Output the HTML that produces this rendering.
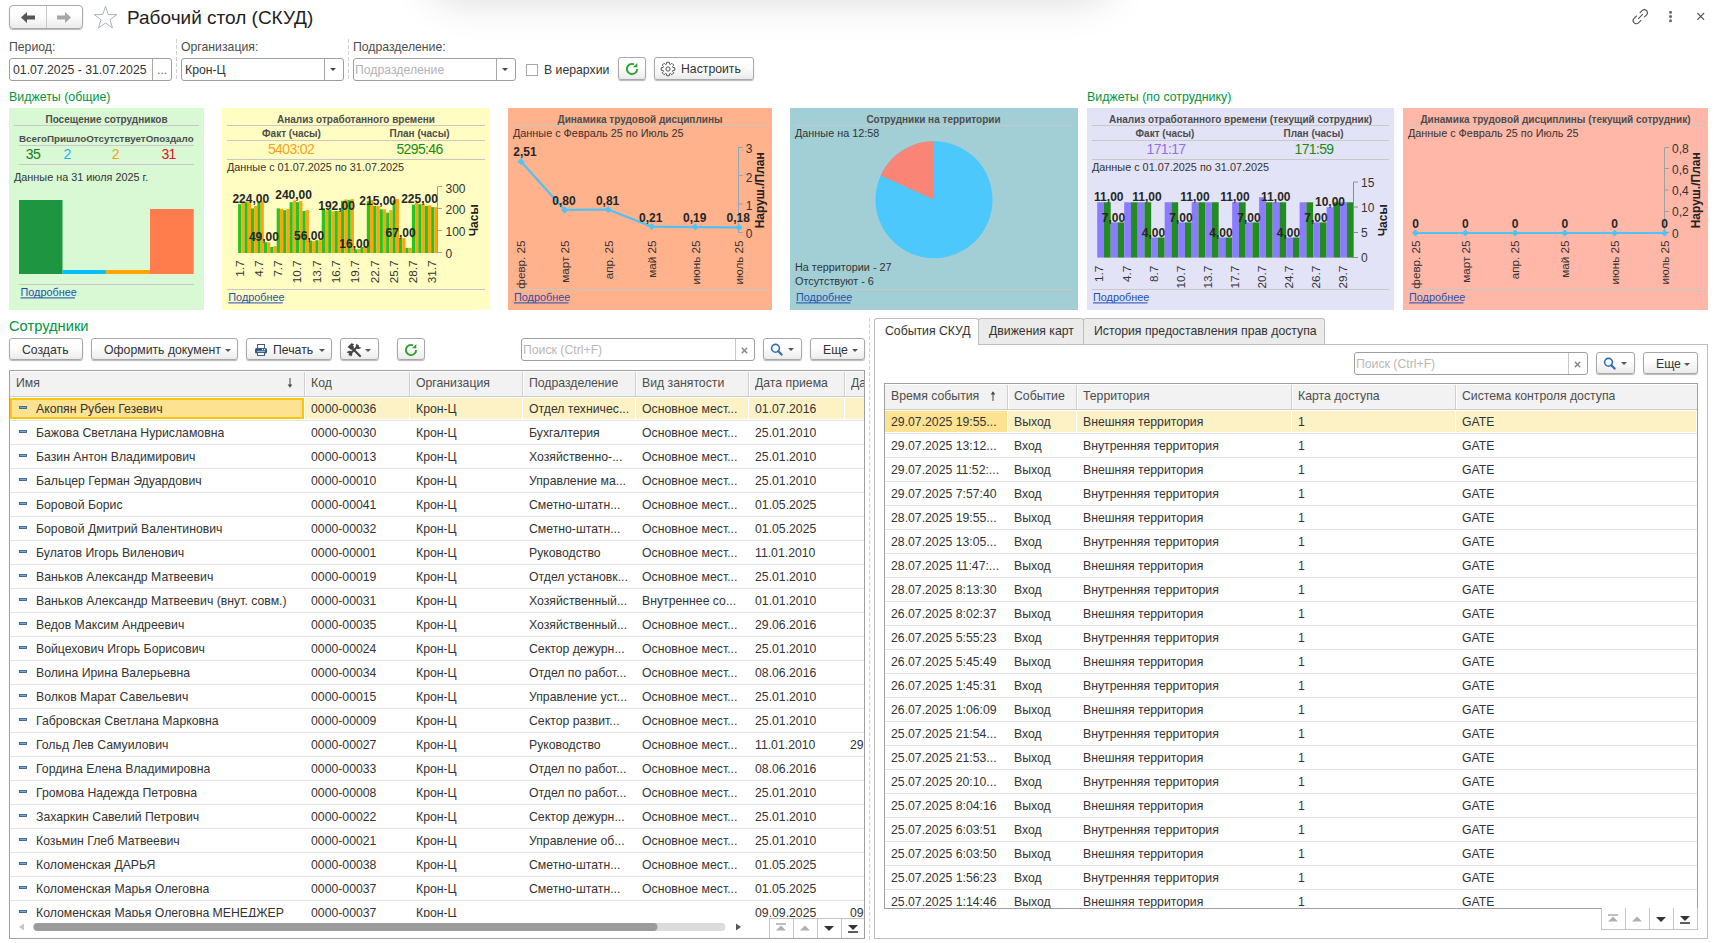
<!DOCTYPE html><html><head><meta charset="utf-8"><title>Рабочий стол (СКУД)</title><style>
*{box-sizing:border-box;margin:0;padding:0}
html,body{width:1714px;height:943px;overflow:hidden;background:#fff}
body{position:relative;font-family:"Liberation Sans",sans-serif;font-size:12.25px;color:#333}
.a{position:absolute}
.btn{position:absolute;border:1px solid #a8a8a8;border-radius:3px;background:linear-gradient(#fff,#fff 40%,#ebebeb);box-shadow:0 1px 1px rgba(0,0,0,.28);color:#333;font-size:12.25px;white-space:nowrap}
.inp{position:absolute;border:1px solid #9e9e9e;border-radius:3px;background:#fff;white-space:nowrap;overflow:hidden}
.lbl{position:absolute;color:#4d4d4d;font-size:12.25px;white-space:nowrap;line-height:14px}
.tx{position:absolute;white-space:nowrap;line-height:14px}
.grid{position:absolute;border:1px solid #a0a0a0;background:#fff;overflow:hidden}
.hdr{position:absolute;background:#f2f2f2;color:#4d4d4d}
.row{position:absolute;left:0;height:24px;border-bottom:1px solid #e4e4e4}
.c{position:absolute;top:0;line-height:23px;white-space:nowrap;overflow:hidden}
.dash{position:absolute;width:8px;height:3px;background:#7aaedb;border:1px solid #466a8c;left:9px;top:9px}
</style></head><body>
<div class="a" style="left:428px;top:-60px;width:686px;height:60px;box-shadow:0 0 40px 0 rgba(0,0,0,.15);border-radius:30px;background:#fff"></div>
<div class="btn" style="left:9px;top:5px;width:74px;height:24px;border-radius:4px"></div>
<div class="a" style="left:46px;top:6px;width:1px;height:22px;background:#c8c8c8"></div>
<svg class="a" style="left:0;top:0" width="120" height="40"><path d="M21 17.5 L27 12 L27 15.5 L35 15.5 L35 19.5 L27 19.5 L27 23 Z" fill="#555"/><path d="M71 17.5 L65 12 L65 15.5 L57 15.5 L57 19.5 L65 19.5 L65 23 Z" fill="#a6a6a6"/><path d="M105.50 6.40 L108.26 14.50 L116.82 14.62 L109.97 19.75 L112.49 27.93 L105.50 23.00 L98.51 27.93 L101.03 19.75 L94.18 14.62 L102.74 14.50 Z" fill="none" stroke="#a9b3bb" stroke-width="1"/></svg>
<div class="tx" style="left:127px;top:5.5px;font-size:19px;line-height:24px;color:#1e1e1e">Рабочий стол (СКУД)</div>
<svg class="a" style="left:1620px;top:0" width="94" height="34"><g fill="none" stroke="#555" stroke-width="1.3" stroke-linecap="round" transform="translate(20.5,16.5) scale(0.86) translate(-20.5,-16.5)"><path d="M20.1 12.0 L22.9 9.2 A3.6 3.6 0 0 1 27.9 14.2 L25.1 17.0"/><path d="M15.9 15.9 L13.05 18.75 A3.6 3.6 0 0 0 18.15 23.85 L21 21"/><path d="M18.1 18.9 L22.9 14.1"/></g><circle cx="50.5" cy="12.3" r="1.5" fill="#666"/><circle cx="50.5" cy="16.5" r="1.5" fill="#666"/><circle cx="50.5" cy="20.7" r="1.5" fill="#666"/><path d="M77.3 13 L84.1 19.8 M84.1 13 L77.3 19.8" stroke="#555" stroke-width="1.1"/></svg>
<div class="lbl" style="left:9px;top:40px">Период:</div>
<div class="inp" style="left:9px;top:58px;width:163px;height:23px"><div class="tx" style="left:3px;top:4px;color:#333">01.07.2025 - 31.07.2025</div><div class="a" style="left:142px;top:0;width:1px;height:21px;background:#a8a8a8"></div><div class="tx" style="left:147px;top:4px;color:#666">...</div></div>
<div class="a" style="left:176px;top:39px;width:1px;height:40px;background:repeating-linear-gradient(#d2d2d2 0 4px,transparent 4px 6px)"></div>
<div class="lbl" style="left:181px;top:40px">Организация:</div>
<div class="inp" style="left:181px;top:58px;width:163px;height:23px"><div class="tx" style="left:3px;top:4px;color:#333">Крон-Ц</div><div class="a" style="left:142px;top:0;width:1px;height:21px;background:#a8a8a8"></div><div class="a" style="left:148px;top:9px;width:0;height:0;border-left:3px solid transparent;border-right:3px solid transparent;border-top:3.5px solid #444"></div></div>
<div class="a" style="left:348px;top:39px;width:1px;height:40px;background:repeating-linear-gradient(#d2d2d2 0 4px,transparent 4px 6px)"></div>
<div class="lbl" style="left:353px;top:40px">Подразделение:</div>
<div class="inp" style="left:353px;top:58px;width:163px;height:23px"><div class="tx" style="left:1px;top:4px;color:#b3b3b3">Подразделение</div><div class="a" style="left:142px;top:0;width:1px;height:21px;background:#a8a8a8"></div><div class="a" style="left:148px;top:9px;width:0;height:0;border-left:3px solid transparent;border-right:3px solid transparent;border-top:3.5px solid #444"></div></div>
<div class="a" style="left:526px;top:64px;width:12px;height:12px;border:1px solid #a8a8a8;background:#fff"></div>
<div class="tx" style="left:544px;top:63px;color:#333">В иерархии</div>
<div class="btn" style="left:618px;top:57px;width:28px;height:23px"></div>
<svg class="a" style="left:623px;top:60px" width="18" height="18"><path d="M11.07 4.34 A5.1 5.1 0 1 0 14.1 9" fill="none" stroke="#2ca02c" stroke-width="1.9"/><path d="M14.3 2.9 L14.3 7.2 L10 7.2 Z" fill="#2ca02c"/></svg>
<div class="btn" style="left:654px;top:57px;width:100px;height:23px"></div>
<svg class="a" style="left:659px;top:60px" width="18" height="18"><g fill="none" stroke="#555" stroke-width="1"><path d="M7.51 4.12 L7.68 2.23 L10.32 2.23 L10.49 4.12 L11.39 4.50 L12.86 3.28 L14.72 5.14 L13.50 6.61 L13.88 7.51 L15.77 7.68 L15.77 10.32 L13.88 10.49 L13.50 11.39 L14.72 12.86 L12.86 14.72 L11.39 13.50 L10.49 13.88 L10.32 15.77 L7.68 15.77 L7.51 13.88 L6.61 13.50 L5.14 14.72 L3.28 12.86 L4.50 11.39 L4.12 10.49 L2.23 10.32 L2.23 7.68 L4.12 7.51 L4.50 6.61 L3.28 5.14 L5.14 3.28 L6.61 4.50 Z"/><circle cx="9" cy="9" r="2.1"/></g></svg>
<div class="tx" style="left:681px;top:62px;color:#333">Настроить</div>
<svg class="a" style="left:0;top:0" width="1714" height="320" font-family='"Liberation Sans", sans-serif'><text x="9" y="101" font-size="12.4" font-weight="400" fill="#00963f" text-anchor="start" >Виджеты (общие)</text><text x="1087" y="101" font-size="12.4" font-weight="400" fill="#00963f" text-anchor="start" >Виджеты (по сотруднику)</text><rect x="9" y="108" width="195" height="202" fill="#d8f9d3"/><rect x="222" y="108" width="268" height="202" fill="#fffdc1"/><rect x="508" y="108" width="264" height="202" fill="#ffb28c"/><rect x="790" y="108" width="288" height="202" fill="#a2cfd6"/><rect x="1087" y="108" width="307" height="202" fill="#e3e3f7"/><rect x="1403" y="108" width="305" height="202" fill="#ffb7a8"/><text x="106.5" y="123" font-size="10" font-weight="700" fill="#4d4d4d" text-anchor="middle" >Посещение сотрудников</text><rect x="14" y="125" width="185" height="1" fill="#c8c8c8"/><text x="19" y="142" font-size="9.8" font-weight="700" fill="#4d4d4d" text-anchor="start" >ВсегоПришлоОтсутствуетОпоздало</text><rect x="19" y="145" width="175" height="1" fill="#c8c8c8"/><text x="33" y="159" font-size="14" font-weight="400" fill="#1a7a1a" text-anchor="middle"  letter-spacing="-0.65">35</text><text x="67" y="159" font-size="14" font-weight="400" fill="#1cb3ef" text-anchor="middle"  letter-spacing="-0.65">2</text><text x="115.3" y="159" font-size="14" font-weight="400" fill="#f7a21b" text-anchor="middle"  letter-spacing="-0.65">2</text><text x="168.6" y="159" font-size="14" font-weight="400" fill="#e5141e" text-anchor="middle"  letter-spacing="-0.65">31</text><rect x="19" y="164" width="175" height="1" fill="#c8c8c8"/><text x="14" y="181" font-size="10.85" font-weight="400" fill="#333" text-anchor="start" >Данные на 31 июля 2025 г.</text><rect x="19" y="200" width="43.5" height="74" fill="#1e9641"/><rect x="62.5" y="270" width="43.7" height="4" fill="#00bfff"/><rect x="106.2" y="270" width="43.8" height="4" fill="#ffa500"/><rect x="150" y="209" width="43.7" height="65" fill="#ff7d4d"/><rect x="19" y="284" width="175" height="1" fill="#c8c8c8"/><text x="20.5" y="296" font-size="10.85" font-weight="400" fill="#1f4fb0" text-anchor="start" >Подробнее</text><rect x="20.5" y="297.4" width="54.5" height="1" fill="#1f4fb0"/><text x="356" y="123" font-size="10" font-weight="700" fill="#4d4d4d" text-anchor="middle" >Анализ отработанного времени</text><rect x="227" y="125" width="258" height="1" fill="#c8c8c8"/><text x="291.5" y="137" font-size="10" font-weight="700" fill="#4d4d4d" text-anchor="middle" >Факт (часы)</text><text x="419.5" y="137" font-size="10" font-weight="700" fill="#4d4d4d" text-anchor="middle" >План (часы)</text><rect x="227" y="140" width="258" height="1" fill="#c8c8c8"/><text x="291" y="154" font-size="14" font-weight="400" fill="#f7a21b" text-anchor="middle"  letter-spacing="-0.65">5403:02</text><text x="419.5" y="154" font-size="14" font-weight="400" fill="#1a8a1a" text-anchor="middle"  letter-spacing="-0.65">5295:46</text><rect x="227" y="159" width="258" height="1" fill="#c8c8c8"/><text x="227" y="171" font-size="10.85" font-weight="400" fill="#333" text-anchor="start" >Данные с 01.07.2025 по 31.07.2025</text><rect x="238.1" y="204.2" width="3.22" height="48.8" fill="#22c522"/><rect x="241.32" y="202.9" width="3.22" height="50.1" fill="#ffa30f"/><rect x="244.54" y="202.2" width="3.22" height="50.8" fill="#22c522"/><rect x="247.75" y="202.2" width="3.22" height="50.8" fill="#ffa30f"/><rect x="250.97" y="208.4" width="3.22" height="44.6" fill="#22c522"/><rect x="254.19" y="205.9" width="3.22" height="47.1" fill="#ffa30f"/><rect x="257.41" y="202.2" width="3.22" height="50.8" fill="#22c522"/><rect x="260.62" y="200.8" width="3.22" height="52.2" fill="#ffa30f"/><rect x="263.84" y="242.3" width="3.22" height="10.7" fill="#22c522"/><rect x="267.06" y="242.3" width="3.22" height="10.7" fill="#ffa30f"/><rect x="270.28" y="247" width="3.22" height="6" fill="#22c522"/><rect x="273.5" y="246.2" width="3.22" height="6.8" fill="#ffa30f"/><rect x="276.71" y="208.4" width="3.22" height="44.6" fill="#22c522"/><rect x="279.93" y="208.8" width="3.22" height="44.2" fill="#ffa30f"/><rect x="283.15" y="210.1" width="3.22" height="42.9" fill="#22c522"/><rect x="286.37" y="208.8" width="3.22" height="44.2" fill="#ffa30f"/><rect x="289.58" y="202.2" width="3.22" height="50.8" fill="#22c522"/><rect x="292.8" y="200.4" width="3.22" height="52.6" fill="#ffa30f"/><rect x="296.02" y="202.2" width="3.22" height="50.8" fill="#22c522"/><rect x="299.24" y="201.2" width="3.22" height="51.8" fill="#ffa30f"/><rect x="302.45" y="211" width="3.22" height="42" fill="#22c522"/><rect x="305.67" y="210.1" width="3.22" height="42.9" fill="#ffa30f"/><rect x="308.89" y="240.6" width="3.22" height="12.4" fill="#22c522"/><rect x="312.11" y="241.1" width="3.22" height="11.9" fill="#ffa30f"/><rect x="315.33" y="240.2" width="3.22" height="12.8" fill="#22c522"/><rect x="318.54" y="240.2" width="3.22" height="12.8" fill="#ffa30f"/><rect x="321.76" y="208.4" width="3.22" height="44.6" fill="#22c522"/><rect x="324.98" y="210.1" width="3.22" height="42.9" fill="#ffa30f"/><rect x="328.2" y="209.7" width="3.22" height="43.3" fill="#22c522"/><rect x="331.41" y="211.4" width="3.22" height="41.6" fill="#ffa30f"/><rect x="334.63" y="211" width="3.22" height="42" fill="#22c522"/><rect x="337.85" y="211" width="3.22" height="42" fill="#ffa30f"/><rect x="341.07" y="200.8" width="3.22" height="52.2" fill="#22c522"/><rect x="344.29" y="199.5" width="3.22" height="53.5" fill="#ffa30f"/><rect x="347.5" y="199.9" width="3.22" height="53.1" fill="#22c522"/><rect x="350.72" y="199.1" width="3.22" height="53.9" fill="#ffa30f"/><rect x="353.94" y="249.5" width="3.22" height="3.5" fill="#22c522"/><rect x="357.16" y="249.1" width="3.22" height="3.9" fill="#ffa30f"/><rect x="360.37" y="247" width="3.22" height="6" fill="#22c522"/><rect x="363.59" y="246" width="3.22" height="7" fill="#ffa30f"/><rect x="366.81" y="201.2" width="3.22" height="51.8" fill="#22c522"/><rect x="370.03" y="199.9" width="3.22" height="53.1" fill="#ffa30f"/><rect x="373.25" y="205.9" width="3.22" height="47.1" fill="#22c522"/><rect x="376.46" y="205.9" width="3.22" height="47.1" fill="#ffa30f"/><rect x="379.68" y="209.3" width="3.22" height="43.7" fill="#22c522"/><rect x="382.9" y="209.3" width="3.22" height="43.7" fill="#ffa30f"/><rect x="386.12" y="212.7" width="3.22" height="40.3" fill="#22c522"/><rect x="389.33" y="210.1" width="3.22" height="42.9" fill="#ffa30f"/><rect x="392.55" y="200.4" width="3.22" height="52.6" fill="#22c522"/><rect x="395.77" y="199.1" width="3.22" height="53.9" fill="#ffa30f"/><rect x="398.99" y="238.1" width="3.22" height="14.9" fill="#22c522"/><rect x="402.2" y="238.1" width="3.22" height="14.9" fill="#ffa30f"/><rect x="405.42" y="247.9" width="3.22" height="5.1" fill="#22c522"/><rect x="408.64" y="247.9" width="3.22" height="5.1" fill="#ffa30f"/><rect x="411.86" y="204.6" width="3.22" height="48.4" fill="#22c522"/><rect x="415.08" y="202.9" width="3.22" height="50.1" fill="#ffa30f"/><rect x="418.29" y="204.2" width="3.22" height="48.8" fill="#22c522"/><rect x="421.51" y="203.7" width="3.22" height="49.3" fill="#ffa30f"/><rect x="424.73" y="205.9" width="3.22" height="47.1" fill="#22c522"/><rect x="427.95" y="205.4" width="3.22" height="47.6" fill="#ffa30f"/><rect x="431.16" y="207.1" width="3.22" height="45.9" fill="#22c522"/><rect x="434.38" y="207.1" width="3.22" height="45.9" fill="#ffa30f"/><path d="M437.5 186.5 H442 M437.5 186.5 V253 M437.5 208.5 H442 M437.5 230.5 H442 M437.5 252.5 H442" stroke="#9aa0b4" stroke-width="1" fill="none"/><text x="445.5" y="192.5" font-size="12" font-weight="400" fill="#333" text-anchor="start" >300</text><text x="445.5" y="214" font-size="12" font-weight="400" fill="#333" text-anchor="start" >200</text><text x="445.5" y="236" font-size="12" font-weight="400" fill="#333" text-anchor="start" >100</text><text x="445.5" y="257.5" font-size="12" font-weight="400" fill="#333" text-anchor="start" >0</text><text x="0" y="0" font-size="12" font-weight="700" fill="#222" text-anchor="middle" transform="translate(477.8,220.3) rotate(-90)">Часы</text><text font-size="11.7" fill="#333" text-anchor="end" transform="translate(243.6,260.5) rotate(-90)">1.7</text><text font-size="11.7" fill="#333" text-anchor="end" transform="translate(262.9,260.5) rotate(-90)">4.7</text><text font-size="11.7" fill="#333" text-anchor="end" transform="translate(282.2,260.5) rotate(-90)">7.7</text><text font-size="11.7" fill="#333" text-anchor="end" transform="translate(301.4,260.5) rotate(-90)">10.7</text><text font-size="11.7" fill="#333" text-anchor="end" transform="translate(320.7,260.5) rotate(-90)">13.7</text><text font-size="11.7" fill="#333" text-anchor="end" transform="translate(340.0,260.5) rotate(-90)">16.7</text><text font-size="11.7" fill="#333" text-anchor="end" transform="translate(359.3,260.5) rotate(-90)">19.7</text><text font-size="11.7" fill="#333" text-anchor="end" transform="translate(378.6,260.5) rotate(-90)">22.7</text><text font-size="11.7" fill="#333" text-anchor="end" transform="translate(397.8,260.5) rotate(-90)">25.7</text><text font-size="11.7" fill="#333" text-anchor="end" transform="translate(417.1,260.5) rotate(-90)">28.7</text><text font-size="11.7" fill="#333" text-anchor="end" transform="translate(436.4,260.5) rotate(-90)">31.7</text><text x="250.8" y="203.3" font-size="12" font-weight="700" fill="#262626" text-anchor="middle" >224,00</text><text x="263.9" y="241" font-size="12" font-weight="700" fill="#262626" text-anchor="middle" >49,00</text><text x="293.6" y="199.3" font-size="12" font-weight="700" fill="#262626" text-anchor="middle" >240,00</text><text x="309.1" y="240.2" font-size="12" font-weight="700" fill="#262626" text-anchor="middle" >56,00</text><text x="336.6" y="210.2" font-size="12" font-weight="700" fill="#262626" text-anchor="middle" >192,00</text><text x="354.3" y="248" font-size="12" font-weight="700" fill="#262626" text-anchor="middle" >16,00</text><text x="377.7" y="205" font-size="12" font-weight="700" fill="#262626" text-anchor="middle" >215,00</text><text x="400.6" y="236.8" font-size="12" font-weight="700" fill="#262626" text-anchor="middle" >67,00</text><text x="419.5" y="203.2" font-size="12" font-weight="700" fill="#262626" text-anchor="middle" >225,00</text><rect x="227" y="289" width="258" height="1" fill="#c8c8c8"/><text x="228.3" y="301" font-size="10.85" font-weight="400" fill="#1f4fb0" text-anchor="start" >Подробнее</text><rect x="228.3" y="302.4" width="54.5" height="1" fill="#1f4fb0"/><text x="640" y="123" font-size="10" font-weight="700" fill="#4d4d4d" text-anchor="middle" >Динамика трудовой дисциплины</text><rect x="513" y="125" width="254" height="1" fill="#c8c8c8"/><text x="513" y="137" font-size="10.85" font-weight="400" fill="#333" text-anchor="start" >Данные с Февраль 25 по Июль 25</text><path d="M738.5 147.5 H743 M738.5 147.5 V233 M738.5 175.5 H743 M738.5 204 H743 M738.5 232.5 H743" stroke="#93a4b6" stroke-width="1" fill="none"/><text x="745.7" y="153.2" font-size="12" font-weight="400" fill="#333" text-anchor="start" >3</text><text x="745.7" y="181.5" font-size="12" font-weight="400" fill="#333" text-anchor="start" >2</text><text x="745.7" y="210" font-size="12" font-weight="400" fill="#333" text-anchor="start" >1</text><text x="745.7" y="238.2" font-size="12" font-weight="400" fill="#333" text-anchor="start" >0</text><text x="0" y="0" font-size="12" font-weight="700" fill="#222" text-anchor="middle" transform="translate(763.5,190.3) rotate(-90)">Наруш./План</text><polyline points="521.0,161.6 564.6,209.9 608.2,209.6 651.8,226.6 695.4,227.1 739.0,227.4" fill="none" stroke="#4fc3f7" stroke-width="2.2"/><path d="M521.0 158.1 L524.5 161.6 L521.0 165.1 L517.5 161.6 Z" fill="#4fc3f7"/><path d="M564.6 206.4 L568.1 209.9 L564.6 213.4 L561.1 209.9 Z" fill="#4fc3f7"/><path d="M608.2 206.1 L611.7 209.6 L608.2 213.1 L604.7 209.6 Z" fill="#4fc3f7"/><path d="M651.8 223.1 L655.3 226.6 L651.8 230.1 L648.3 226.6 Z" fill="#4fc3f7"/><path d="M695.4 223.6 L698.9 227.1 L695.4 230.6 L691.9 227.1 Z" fill="#4fc3f7"/><path d="M739.0 223.9 L742.5 227.4 L739.0 230.9 L735.5 227.4 Z" fill="#4fc3f7"/><text x="525" y="155.5" font-size="12" font-weight="700" fill="#262626" text-anchor="middle" >2,51</text><text x="564" y="205" font-size="12" font-weight="700" fill="#262626" text-anchor="middle" >0,80</text><text x="607.6" y="205" font-size="12" font-weight="700" fill="#262626" text-anchor="middle" >0,81</text><text x="650.7" y="222" font-size="12" font-weight="700" fill="#262626" text-anchor="middle" >0,21</text><text x="694.8" y="222" font-size="12" font-weight="700" fill="#262626" text-anchor="middle" >0,19</text><text x="738.2" y="222" font-size="12" font-weight="700" fill="#262626" text-anchor="middle" >0,18</text><text font-size="11.7" fill="#333" text-anchor="end" transform="translate(525.3,240.4) rotate(-90)">февр. 25</text><text font-size="11.7" fill="#333" text-anchor="end" transform="translate(568.9,240.4) rotate(-90)">март 25</text><text font-size="11.7" fill="#333" text-anchor="end" transform="translate(612.5,240.4) rotate(-90)">апр. 25</text><text font-size="11.7" fill="#333" text-anchor="end" transform="translate(656.1,240.4) rotate(-90)">май 25</text><text font-size="11.7" fill="#333" text-anchor="end" transform="translate(699.7,240.4) rotate(-90)">июнь 25</text><text font-size="11.7" fill="#333" text-anchor="end" transform="translate(743.3,240.4) rotate(-90)">июль 25</text><rect x="513" y="289" width="254" height="1" fill="#c8c8c8"/><text x="514" y="301" font-size="10.85" font-weight="400" fill="#1f4fb0" text-anchor="start" >Подробнее</text><rect x="514" y="302.4" width="54.5" height="1" fill="#1f4fb0"/><text x="933.5" y="123" font-size="10" font-weight="700" fill="#4d4d4d" text-anchor="middle" >Сотрудники на территории</text><rect x="795" y="125" width="278" height="1" fill="#c8c8c8"/><text x="795" y="137" font-size="10.85" font-weight="400" fill="#333" text-anchor="start" >Данные на 12:58</text><circle cx="934" cy="199.7" r="58.5" fill="#4dc8fc"/><path d="M934 199.7 L934 141.2 A58.5 58.5 0 0 0 880.79 175.40 Z" fill="#fa8475"/><text x="795" y="270.5" font-size="10.85" font-weight="400" fill="#333" text-anchor="start" >На территории - 27</text><text x="795" y="285" font-size="10.85" font-weight="400" fill="#333" text-anchor="start" >Отсутствуют - 6</text><rect x="795" y="289" width="278" height="1" fill="#c8c8c8"/><text x="796" y="301" font-size="10.85" font-weight="400" fill="#1f4fb0" text-anchor="start" >Подробнее</text><rect x="796" y="302.4" width="54.5" height="1" fill="#1f4fb0"/><text x="1240.5" y="123" font-size="10" font-weight="700" fill="#4d4d4d" text-anchor="middle" >Анализ отработанного времени (текущий сотрудник)</text><rect x="1092" y="125" width="297" height="1" fill="#c8c8c8"/><text x="1165" y="137" font-size="10" font-weight="700" fill="#4d4d4d" text-anchor="middle" >Факт (часы)</text><text x="1313.5" y="137" font-size="10" font-weight="700" fill="#4d4d4d" text-anchor="middle" >План (часы)</text><rect x="1092" y="140" width="297" height="1" fill="#c8c8c8"/><text x="1166" y="153.5" font-size="14" font-weight="400" fill="#9370db" text-anchor="middle"  letter-spacing="-0.65">171:17</text><text x="1314" y="153.5" font-size="14" font-weight="400" fill="#1a8a1a" text-anchor="middle"  letter-spacing="-0.65">171:59</text><rect x="1092" y="159" width="297" height="1" fill="#c8c8c8"/><text x="1092" y="171" font-size="10.85" font-weight="400" fill="#333" text-anchor="start" >Данные с 01.07.2025 по 31.07.2025</text><rect x="1097.2" y="202.27" width="6.75" height="55.33" fill="#8b7bff"/><rect x="1103.95" y="202.27" width="6.75" height="55.33" fill="#228b22"/><rect x="1110.69" y="222.39" width="6.75" height="35.21" fill="#8b7bff"/><rect x="1117.44" y="222.39" width="6.75" height="35.21" fill="#228b22"/><rect x="1124.19" y="202.27" width="6.75" height="55.33" fill="#8b7bff"/><rect x="1130.94" y="202.27" width="6.75" height="55.33" fill="#228b22"/><rect x="1137.68" y="202.27" width="6.75" height="55.33" fill="#8b7bff"/><rect x="1144.43" y="202.27" width="6.75" height="55.33" fill="#228b22"/><rect x="1151.18" y="237.48" width="6.75" height="20.12" fill="#8b7bff"/><rect x="1157.93" y="237.48" width="6.75" height="20.12" fill="#228b22"/><rect x="1164.67" y="202.27" width="6.75" height="55.33" fill="#8b7bff"/><rect x="1171.42" y="202.27" width="6.75" height="55.33" fill="#228b22"/><rect x="1178.17" y="222.39" width="6.75" height="35.21" fill="#8b7bff"/><rect x="1184.92" y="222.39" width="6.75" height="35.21" fill="#228b22"/><rect x="1191.66" y="202.27" width="6.75" height="55.33" fill="#8b7bff"/><rect x="1198.41" y="202.27" width="6.75" height="55.33" fill="#228b22"/><rect x="1205.16" y="202.27" width="6.75" height="55.33" fill="#8b7bff"/><rect x="1211.91" y="202.27" width="6.75" height="55.33" fill="#228b22"/><rect x="1218.65" y="237.48" width="6.75" height="20.12" fill="#8b7bff"/><rect x="1225.4" y="237.48" width="6.75" height="20.12" fill="#228b22"/><rect x="1232.15" y="202.27" width="6.75" height="55.33" fill="#8b7bff"/><rect x="1238.89" y="202.27" width="6.75" height="55.33" fill="#228b22"/><rect x="1245.64" y="222.39" width="6.75" height="35.21" fill="#8b7bff"/><rect x="1252.39" y="222.39" width="6.75" height="35.21" fill="#228b22"/><rect x="1259.14" y="197.24" width="6.75" height="60.36" fill="#8b7bff"/><rect x="1265.88" y="202.27" width="6.75" height="55.33" fill="#228b22"/><rect x="1272.63" y="202.27" width="6.75" height="55.33" fill="#8b7bff"/><rect x="1279.38" y="202.27" width="6.75" height="55.33" fill="#228b22"/><rect x="1286.13" y="237.48" width="6.75" height="20.12" fill="#8b7bff"/><rect x="1292.87" y="237.48" width="6.75" height="20.12" fill="#228b22"/><rect x="1299.62" y="202.27" width="6.75" height="55.33" fill="#8b7bff"/><rect x="1306.37" y="202.27" width="6.75" height="55.33" fill="#228b22"/><rect x="1313.12" y="222.39" width="6.75" height="35.21" fill="#8b7bff"/><rect x="1319.86" y="222.39" width="6.75" height="35.21" fill="#228b22"/><rect x="1326.61" y="207.3" width="6.75" height="50.3" fill="#8b7bff"/><rect x="1333.36" y="202.27" width="6.75" height="55.33" fill="#228b22"/><rect x="1340.11" y="202.27" width="6.75" height="55.33" fill="#8b7bff"/><rect x="1346.85" y="202.27" width="6.75" height="55.33" fill="#228b22"/><path d="M1353.5 182 H1358 M1353.5 182 V258 M1353.5 207 H1358 M1353.5 232.5 H1358 M1353.5 257.5 H1358" stroke="#8d8d8d" stroke-width="1" fill="none"/><text x="1361" y="187" font-size="12" font-weight="400" fill="#333" text-anchor="start" >15</text><text x="1361" y="212" font-size="12" font-weight="400" fill="#333" text-anchor="start" >10</text><text x="1361" y="237" font-size="12" font-weight="400" fill="#333" text-anchor="start" >5</text><text x="1361" y="262" font-size="12" font-weight="400" fill="#333" text-anchor="start" >0</text><text x="0" y="0" font-size="12" font-weight="700" fill="#222" text-anchor="middle" transform="translate(1387,220.3) rotate(-90)">Часы</text><text font-size="11.7" fill="#333" text-anchor="end" transform="translate(1103.4,265.8) rotate(-90)">1.7</text><text font-size="11.7" fill="#333" text-anchor="end" transform="translate(1130.5,265.8) rotate(-90)">4.7</text><text font-size="11.7" fill="#333" text-anchor="end" transform="translate(1157.6,265.8) rotate(-90)">8.7</text><text font-size="11.7" fill="#333" text-anchor="end" transform="translate(1184.7,265.8) rotate(-90)">10.7</text><text font-size="11.7" fill="#333" text-anchor="end" transform="translate(1211.8,265.8) rotate(-90)">13.7</text><text font-size="11.7" fill="#333" text-anchor="end" transform="translate(1238.9,265.8) rotate(-90)">17.7</text><text font-size="11.7" fill="#333" text-anchor="end" transform="translate(1266.0,265.8) rotate(-90)">20.7</text><text font-size="11.7" fill="#333" text-anchor="end" transform="translate(1293.1,265.8) rotate(-90)">24.7</text><text font-size="11.7" fill="#333" text-anchor="end" transform="translate(1320.2,265.8) rotate(-90)">26.7</text><text font-size="11.7" fill="#333" text-anchor="end" transform="translate(1347.3,265.8) rotate(-90)">29.7</text><text x="1108.8" y="200.7" font-size="12" font-weight="700" fill="#262626" text-anchor="middle" >11,00</text><text x="1113.4" y="221.5" font-size="12" font-weight="700" fill="#262626" text-anchor="middle" >7,00</text><text x="1147" y="200.7" font-size="12" font-weight="700" fill="#262626" text-anchor="middle" >11,00</text><text x="1153.5" y="236.8" font-size="12" font-weight="700" fill="#262626" text-anchor="middle" >4,00</text><text x="1181" y="221.5" font-size="12" font-weight="700" fill="#262626" text-anchor="middle" >7,00</text><text x="1195" y="200.7" font-size="12" font-weight="700" fill="#262626" text-anchor="middle" >11,00</text><text x="1221" y="236.8" font-size="12" font-weight="700" fill="#262626" text-anchor="middle" >4,00</text><text x="1235" y="200.7" font-size="12" font-weight="700" fill="#262626" text-anchor="middle" >11,00</text><text x="1249" y="221.5" font-size="12" font-weight="700" fill="#262626" text-anchor="middle" >7,00</text><text x="1275.8" y="200.7" font-size="12" font-weight="700" fill="#262626" text-anchor="middle" >11,00</text><text x="1288.5" y="236.8" font-size="12" font-weight="700" fill="#262626" text-anchor="middle" >4,00</text><text x="1316" y="221.5" font-size="12" font-weight="700" fill="#262626" text-anchor="middle" >7,00</text><text x="1330" y="205.8" font-size="12" font-weight="700" fill="#262626" text-anchor="middle" >10,00</text><rect x="1092" y="289" width="297" height="1" fill="#c8c8c8"/><text x="1093" y="301" font-size="10.85" font-weight="400" fill="#1f4fb0" text-anchor="start" >Подробнее</text><rect x="1093" y="302.4" width="54.5" height="1" fill="#1f4fb0"/><text x="1555.5" y="123" font-size="10" font-weight="700" fill="#4d4d4d" text-anchor="middle" >Динамика трудовой дисциплины (текущий сотрудник)</text><rect x="1408" y="125" width="295" height="1" fill="#c8c8c8"/><text x="1408" y="137" font-size="10.85" font-weight="400" fill="#333" text-anchor="start" >Данные с Февраль 25 по Июль 25</text><path d="M1664.5 147.5 H1669 M1664.5 147.5 V233 M1664.5 168.5 H1669 M1664.5 190 H1669 M1664.5 211.5 H1669 M1664.5 232.5 H1669" stroke="#a0a0a0" stroke-width="1" fill="none"/><text x="1672" y="152.5" font-size="12" font-weight="400" fill="#333" text-anchor="start" >0,8</text><text x="1672" y="173.5" font-size="12" font-weight="400" fill="#333" text-anchor="start" >0,6</text><text x="1672" y="194.5" font-size="12" font-weight="400" fill="#333" text-anchor="start" >0,4</text><text x="1672" y="216" font-size="12" font-weight="400" fill="#333" text-anchor="start" >0,2</text><text x="1672" y="237.5" font-size="12" font-weight="400" fill="#333" text-anchor="start" >0</text><text x="0" y="0" font-size="12" font-weight="700" fill="#222" text-anchor="middle" transform="translate(1699.5,190.3) rotate(-90)">Наруш./План</text><polyline points="1415.5,233 1664.5,233" fill="none" stroke="#4fc3f7" stroke-width="2.2"/><path d="M1415.5 229.5 L1419.0 233 L1415.5 236.5 L1412.0 233 Z" fill="#4fc3f7"/><text x="1415.5" y="228" font-size="12" font-weight="700" fill="#262626" text-anchor="middle" >0</text><path d="M1465.3 229.5 L1468.8 233 L1465.3 236.5 L1461.8 233 Z" fill="#4fc3f7"/><text x="1465.3" y="228" font-size="12" font-weight="700" fill="#262626" text-anchor="middle" >0</text><path d="M1515.1 229.5 L1518.6 233 L1515.1 236.5 L1511.6 233 Z" fill="#4fc3f7"/><text x="1515.1" y="228" font-size="12" font-weight="700" fill="#262626" text-anchor="middle" >0</text><path d="M1564.9 229.5 L1568.4 233 L1564.9 236.5 L1561.4 233 Z" fill="#4fc3f7"/><text x="1564.9" y="228" font-size="12" font-weight="700" fill="#262626" text-anchor="middle" >0</text><path d="M1614.7 229.5 L1618.2 233 L1614.7 236.5 L1611.2 233 Z" fill="#4fc3f7"/><text x="1614.7" y="228" font-size="12" font-weight="700" fill="#262626" text-anchor="middle" >0</text><path d="M1664.5 229.5 L1668.0 233 L1664.5 236.5 L1661.0 233 Z" fill="#4fc3f7"/><text x="1664.5" y="228" font-size="12" font-weight="700" fill="#262626" text-anchor="middle" >0</text><text font-size="11.7" fill="#333" text-anchor="end" transform="translate(1419.8,240.4) rotate(-90)">февр. 25</text><text font-size="11.7" fill="#333" text-anchor="end" transform="translate(1469.6,240.4) rotate(-90)">март 25</text><text font-size="11.7" fill="#333" text-anchor="end" transform="translate(1519.4,240.4) rotate(-90)">апр. 25</text><text font-size="11.7" fill="#333" text-anchor="end" transform="translate(1569.2,240.4) rotate(-90)">май 25</text><text font-size="11.7" fill="#333" text-anchor="end" transform="translate(1619.0,240.4) rotate(-90)">июнь 25</text><text font-size="11.7" fill="#333" text-anchor="end" transform="translate(1668.8,240.4) rotate(-90)">июль 25</text><rect x="1408" y="289" width="295" height="1" fill="#c8c8c8"/><text x="1409" y="301" font-size="10.85" font-weight="400" fill="#1f4fb0" text-anchor="start" >Подробнее</text><rect x="1409" y="302.4" width="54.5" height="1" fill="#1f4fb0"/></svg>
<div class="tx" style="left:9px;top:318px;font-size:14.7px;line-height:16px;color:#00963f">Сотрудники</div>
<div class="btn" style="left:9px;top:338px;width:74px;height:22px"><div class="tx" style="left:12px;top:4px">Создать</div></div>
<div class="btn" style="left:91px;top:338px;width:147px;height:22px"><div class="tx" style="left:12px;top:4px">Оформить документ</div><div class="a" style="left:133px;top:10px;width:0;height:0;border-left:3.5px solid transparent;border-right:3.5px solid transparent;border-top:3.5px solid #555"></div></div>
<div class="btn" style="left:246px;top:338px;width:86px;height:22px"><svg class="a" style="left:7px;top:4px" width="14" height="14"><rect x="3.5" y="1.5" width="7" height="4" fill="#fff" stroke="#3d5f85" stroke-width="1"/><rect x="1" y="5" width="12" height="5.5" rx="1.5" fill="#2f5a88"/><rect x="3" y="7.8" width="8" height="1.2" fill="#9db9d6"/><circle cx="8.6" cy="6.4" r="0.65" fill="#fff"/><circle cx="10.6" cy="6.4" r="0.65" fill="#fff"/><rect x="3.5" y="9.5" width="7" height="3" fill="#fff" stroke="#3d5f85" stroke-width="1"/></svg><div class="tx" style="left:26px;top:4px">Печать</div><div class="a" style="left:72px;top:10px;width:0;height:0;border-left:3.5px solid transparent;border-right:3.5px solid transparent;border-top:3.5px solid #555"></div></div>
<div class="btn" style="left:340px;top:338px;width:39px;height:22px"><svg class="a" style="left:5px;top:3px" width="17" height="16"><path d="M5.5 5.5 L14 14" stroke="#444" stroke-width="2.2" stroke-linecap="round"/><path d="M1.5 5 L5.5 1.2 L8.3 2.2 L6.8 3.4 L8.2 5 L5.2 8 L3.6 6.6 Z" fill="#444"/><path d="M3.5 12.5 L12 4" stroke="#444" stroke-width="2" stroke-linecap="round"/><path d="M11.2 1.5 A3 3 0 1 0 15.3 5.6 L13.4 5.2 L11.8 3.6 Z" fill="#444"/><path d="M4.6 14.6 A3 3 0 1 0 0.7 10.5 L2.6 10.9 L4.2 12.5 Z" fill="#444"/></svg><div class="a" style="left:24px;top:10px;width:0;height:0;border-left:3.5px solid transparent;border-right:3.5px solid transparent;border-top:3.5px solid #555"></div></div>
<div class="btn" style="left:397px;top:338px;width:28px;height:22px"></div>
<svg class="a" style="left:402px;top:341px" width="18" height="18"><path d="M11.07 4.34 A5.1 5.1 0 1 0 14.1 9" fill="none" stroke="#2ca02c" stroke-width="1.9"/><path d="M14.3 2.9 L14.3 7.2 L10 7.2 Z" fill="#2ca02c"/></svg>
<div class="inp" style="left:521px;top:338px;width:234px;height:23px"><div class="tx" style="left:1px;top:4px;color:#b8b8b8">Поиск (Ctrl+F)</div><div class="a" style="left:213px;top:0;width:1px;height:21px;background:#c8c8c8"></div><svg class="a" style="left:218px;top:7px" width="9" height="9"><path d="M1.8 1.8 L7.2 7.2 M7.2 1.8 L1.8 7.2" stroke="#888" stroke-width="1.5"/></svg></div>
<div class="btn" style="left:763px;top:338px;width:39px;height:22px"><svg class="a" style="left:6px;top:4px" width="14" height="14"><circle cx="5.5" cy="5.3" r="3.9" fill="none" stroke="#2f6fb3" stroke-width="1.6"/><path d="M8.3 8.2 L11.6 11.6" stroke="#2f6fb3" stroke-width="2.2" stroke-linecap="round"/></svg><div class="a" style="left:24px;top:9px;width:0;height:0;border-left:3.5px solid transparent;border-right:3.5px solid transparent;border-top:3.5px solid #555"></div></div>
<div class="btn" style="left:810px;top:338px;width:55px;height:22px"><div class="tx" style="left:12px;top:4px">Еще</div><div class="a" style="left:41px;top:10px;width:0;height:0;border-left:3.5px solid transparent;border-right:3.5px solid transparent;border-top:3.5px solid #555"></div></div>
<div class="grid" style="left:9px;top:370px;width:856px;height:569px">
<div class="hdr" style="left:0;top:1px;width:900px;height:24px"></div>
<div class="a" style="left:0;top:25px;width:900px;height:1px;background:#cdcdcd"></div>
<div class="c" style="left:6px;top:0px;line-height:24px;color:#4d4d4d">Имя</div>
<div class="a" style="left:294px;top:1px;width:1px;height:24px;background:#cfcfcf"></div>
<div class="a" style="left:295px;top:1px;width:1px;height:24px;background:#fff"></div>
<div class="c" style="left:301px;top:0px;line-height:24px;color:#4d4d4d">Код</div>
<div class="a" style="left:399px;top:1px;width:1px;height:24px;background:#cfcfcf"></div>
<div class="a" style="left:400px;top:1px;width:1px;height:24px;background:#fff"></div>
<div class="c" style="left:406px;top:0px;line-height:24px;color:#4d4d4d">Организация</div>
<div class="a" style="left:512px;top:1px;width:1px;height:24px;background:#cfcfcf"></div>
<div class="a" style="left:513px;top:1px;width:1px;height:24px;background:#fff"></div>
<div class="c" style="left:519px;top:0px;line-height:24px;color:#4d4d4d">Подразделение</div>
<div class="a" style="left:625px;top:1px;width:1px;height:24px;background:#cfcfcf"></div>
<div class="a" style="left:626px;top:1px;width:1px;height:24px;background:#fff"></div>
<div class="c" style="left:632px;top:0px;line-height:24px;color:#4d4d4d">Вид занятости</div>
<div class="a" style="left:738px;top:1px;width:1px;height:24px;background:#cfcfcf"></div>
<div class="a" style="left:739px;top:1px;width:1px;height:24px;background:#fff"></div>
<div class="c" style="left:745px;top:0px;line-height:24px;color:#4d4d4d">Дата приема</div>
<div class="a" style="left:834px;top:1px;width:1px;height:24px;background:#cfcfcf"></div>
<div class="a" style="left:835px;top:1px;width:1px;height:24px;background:#fff"></div>
<div class="c" style="left:841px;top:0px;line-height:24px;color:#4d4d4d">Дата</div>
<svg class="a" style="left:275px;top:6px" width="10" height="12"><path d="M5 1 V9" stroke="#444" stroke-width="1"/><path d="M2.7 7.5 L5 10.8 L7.3 7.5 Z" fill="#444"/></svg>
<div class="a" style="left:0;top:26px;width:900px;height:24px">
<div class="a" style="left:0px;top:1px;width:294px;height:21px;background:#fde291;border:2px solid #f9c50f"></div>
<div class="a" style="left:295px;top:1px;width:104px;height:21px;background:#fdf2c6"></div>
<div class="a" style="left:400px;top:1px;width:112px;height:21px;background:#fdf2c6"></div>
<div class="a" style="left:513px;top:1px;width:112px;height:21px;background:#fdf2c6"></div>
<div class="a" style="left:626px;top:1px;width:112px;height:21px;background:#fdf2c6"></div>
<div class="a" style="left:739px;top:1px;width:95px;height:21px;background:#fdf2c6"></div>
<div class="a" style="left:835px;top:1px;width:64px;height:21px;background:#fdf2c6"></div>
<div class="a" style="left:0;top:23px;width:900px;height:1px;background:#e3e3e3"></div>
<div class="dash"></div>
<div class="c" style="left:26px;top:0;line-height:24px;color:#333">Акопян Рубен Гезевич</div>
<div class="c" style="left:301px;top:0;line-height:24px;color:#333">0000-00036</div>
<div class="c" style="left:406px;top:0;line-height:24px;color:#333">Крон-Ц</div>
<div class="c" style="left:519px;top:0;line-height:24px;color:#333">Отдел техничес...</div>
<div class="c" style="left:632px;top:0;line-height:24px;color:#333">Основное мест...</div>
<div class="c" style="left:745px;top:0;line-height:24px;color:#333">01.07.2016</div>
</div>
<div class="a" style="left:0;top:50px;width:900px;height:24px">
<div class="a" style="left:0;top:23px;width:900px;height:1px;background:#e3e3e3"></div>
<div class="dash"></div>
<div class="c" style="left:26px;top:0;line-height:24px;color:#333">Бажова Светлана Нурисламовна</div>
<div class="c" style="left:301px;top:0;line-height:24px;color:#333">0000-00030</div>
<div class="c" style="left:406px;top:0;line-height:24px;color:#333">Крон-Ц</div>
<div class="c" style="left:519px;top:0;line-height:24px;color:#333">Бухгалтерия</div>
<div class="c" style="left:632px;top:0;line-height:24px;color:#333">Основное мест...</div>
<div class="c" style="left:745px;top:0;line-height:24px;color:#333">25.01.2010</div>
</div>
<div class="a" style="left:0;top:74px;width:900px;height:24px">
<div class="a" style="left:0;top:23px;width:900px;height:1px;background:#e3e3e3"></div>
<div class="dash"></div>
<div class="c" style="left:26px;top:0;line-height:24px;color:#333">Базин Антон Владимирович</div>
<div class="c" style="left:301px;top:0;line-height:24px;color:#333">0000-00013</div>
<div class="c" style="left:406px;top:0;line-height:24px;color:#333">Крон-Ц</div>
<div class="c" style="left:519px;top:0;line-height:24px;color:#333">Хозяйственно-...</div>
<div class="c" style="left:632px;top:0;line-height:24px;color:#333">Основное мест...</div>
<div class="c" style="left:745px;top:0;line-height:24px;color:#333">25.01.2010</div>
</div>
<div class="a" style="left:0;top:98px;width:900px;height:24px">
<div class="a" style="left:0;top:23px;width:900px;height:1px;background:#e3e3e3"></div>
<div class="dash"></div>
<div class="c" style="left:26px;top:0;line-height:24px;color:#333">Бальцер Герман Эдуардович</div>
<div class="c" style="left:301px;top:0;line-height:24px;color:#333">0000-00010</div>
<div class="c" style="left:406px;top:0;line-height:24px;color:#333">Крон-Ц</div>
<div class="c" style="left:519px;top:0;line-height:24px;color:#333">Управление ма...</div>
<div class="c" style="left:632px;top:0;line-height:24px;color:#333">Основное мест...</div>
<div class="c" style="left:745px;top:0;line-height:24px;color:#333">25.01.2010</div>
</div>
<div class="a" style="left:0;top:122px;width:900px;height:24px">
<div class="a" style="left:0;top:23px;width:900px;height:1px;background:#e3e3e3"></div>
<div class="dash"></div>
<div class="c" style="left:26px;top:0;line-height:24px;color:#333">Боровой Борис</div>
<div class="c" style="left:301px;top:0;line-height:24px;color:#333">0000-00041</div>
<div class="c" style="left:406px;top:0;line-height:24px;color:#333">Крон-Ц</div>
<div class="c" style="left:519px;top:0;line-height:24px;color:#333">Сметно-штатн...</div>
<div class="c" style="left:632px;top:0;line-height:24px;color:#333">Основное мест...</div>
<div class="c" style="left:745px;top:0;line-height:24px;color:#333">01.05.2025</div>
</div>
<div class="a" style="left:0;top:146px;width:900px;height:24px">
<div class="a" style="left:0;top:23px;width:900px;height:1px;background:#e3e3e3"></div>
<div class="dash"></div>
<div class="c" style="left:26px;top:0;line-height:24px;color:#333">Боровой Дмитрий Валентинович</div>
<div class="c" style="left:301px;top:0;line-height:24px;color:#333">0000-00032</div>
<div class="c" style="left:406px;top:0;line-height:24px;color:#333">Крон-Ц</div>
<div class="c" style="left:519px;top:0;line-height:24px;color:#333">Сметно-штатн...</div>
<div class="c" style="left:632px;top:0;line-height:24px;color:#333">Основное мест...</div>
<div class="c" style="left:745px;top:0;line-height:24px;color:#333">01.05.2025</div>
</div>
<div class="a" style="left:0;top:170px;width:900px;height:24px">
<div class="a" style="left:0;top:23px;width:900px;height:1px;background:#e3e3e3"></div>
<div class="dash"></div>
<div class="c" style="left:26px;top:0;line-height:24px;color:#333">Булатов Игорь Виленович</div>
<div class="c" style="left:301px;top:0;line-height:24px;color:#333">0000-00001</div>
<div class="c" style="left:406px;top:0;line-height:24px;color:#333">Крон-Ц</div>
<div class="c" style="left:519px;top:0;line-height:24px;color:#333">Руководство</div>
<div class="c" style="left:632px;top:0;line-height:24px;color:#333">Основное мест...</div>
<div class="c" style="left:745px;top:0;line-height:24px;color:#333">11.01.2010</div>
</div>
<div class="a" style="left:0;top:194px;width:900px;height:24px">
<div class="a" style="left:0;top:23px;width:900px;height:1px;background:#e3e3e3"></div>
<div class="dash"></div>
<div class="c" style="left:26px;top:0;line-height:24px;color:#333">Ваньков Александр Матвеевич</div>
<div class="c" style="left:301px;top:0;line-height:24px;color:#333">0000-00019</div>
<div class="c" style="left:406px;top:0;line-height:24px;color:#333">Крон-Ц</div>
<div class="c" style="left:519px;top:0;line-height:24px;color:#333">Отдел установк...</div>
<div class="c" style="left:632px;top:0;line-height:24px;color:#333">Основное мест...</div>
<div class="c" style="left:745px;top:0;line-height:24px;color:#333">25.01.2010</div>
</div>
<div class="a" style="left:0;top:218px;width:900px;height:24px">
<div class="a" style="left:0;top:23px;width:900px;height:1px;background:#e3e3e3"></div>
<div class="dash"></div>
<div class="c" style="left:26px;top:0;line-height:24px;color:#333">Ваньков Александр Матвеевич (внут. совм.)</div>
<div class="c" style="left:301px;top:0;line-height:24px;color:#333">0000-00031</div>
<div class="c" style="left:406px;top:0;line-height:24px;color:#333">Крон-Ц</div>
<div class="c" style="left:519px;top:0;line-height:24px;color:#333">Хозяйственный...</div>
<div class="c" style="left:632px;top:0;line-height:24px;color:#333">Внутреннее со...</div>
<div class="c" style="left:745px;top:0;line-height:24px;color:#333">01.01.2010</div>
</div>
<div class="a" style="left:0;top:242px;width:900px;height:24px">
<div class="a" style="left:0;top:23px;width:900px;height:1px;background:#e3e3e3"></div>
<div class="dash"></div>
<div class="c" style="left:26px;top:0;line-height:24px;color:#333">Ведов Максим Андреевич</div>
<div class="c" style="left:301px;top:0;line-height:24px;color:#333">0000-00035</div>
<div class="c" style="left:406px;top:0;line-height:24px;color:#333">Крон-Ц</div>
<div class="c" style="left:519px;top:0;line-height:24px;color:#333">Хозяйственный...</div>
<div class="c" style="left:632px;top:0;line-height:24px;color:#333">Основное мест...</div>
<div class="c" style="left:745px;top:0;line-height:24px;color:#333">29.06.2016</div>
</div>
<div class="a" style="left:0;top:266px;width:900px;height:24px">
<div class="a" style="left:0;top:23px;width:900px;height:1px;background:#e3e3e3"></div>
<div class="dash"></div>
<div class="c" style="left:26px;top:0;line-height:24px;color:#333">Войцехович Игорь Борисович</div>
<div class="c" style="left:301px;top:0;line-height:24px;color:#333">0000-00024</div>
<div class="c" style="left:406px;top:0;line-height:24px;color:#333">Крон-Ц</div>
<div class="c" style="left:519px;top:0;line-height:24px;color:#333">Сектор дежурн...</div>
<div class="c" style="left:632px;top:0;line-height:24px;color:#333">Основное мест...</div>
<div class="c" style="left:745px;top:0;line-height:24px;color:#333">25.01.2010</div>
</div>
<div class="a" style="left:0;top:290px;width:900px;height:24px">
<div class="a" style="left:0;top:23px;width:900px;height:1px;background:#e3e3e3"></div>
<div class="dash"></div>
<div class="c" style="left:26px;top:0;line-height:24px;color:#333">Волина Ирина Валерьевна</div>
<div class="c" style="left:301px;top:0;line-height:24px;color:#333">0000-00034</div>
<div class="c" style="left:406px;top:0;line-height:24px;color:#333">Крон-Ц</div>
<div class="c" style="left:519px;top:0;line-height:24px;color:#333">Отдел по работ...</div>
<div class="c" style="left:632px;top:0;line-height:24px;color:#333">Основное мест...</div>
<div class="c" style="left:745px;top:0;line-height:24px;color:#333">08.06.2016</div>
</div>
<div class="a" style="left:0;top:314px;width:900px;height:24px">
<div class="a" style="left:0;top:23px;width:900px;height:1px;background:#e3e3e3"></div>
<div class="dash"></div>
<div class="c" style="left:26px;top:0;line-height:24px;color:#333">Волков Марат Савельевич</div>
<div class="c" style="left:301px;top:0;line-height:24px;color:#333">0000-00015</div>
<div class="c" style="left:406px;top:0;line-height:24px;color:#333">Крон-Ц</div>
<div class="c" style="left:519px;top:0;line-height:24px;color:#333">Управление уст...</div>
<div class="c" style="left:632px;top:0;line-height:24px;color:#333">Основное мест...</div>
<div class="c" style="left:745px;top:0;line-height:24px;color:#333">25.01.2010</div>
</div>
<div class="a" style="left:0;top:338px;width:900px;height:24px">
<div class="a" style="left:0;top:23px;width:900px;height:1px;background:#e3e3e3"></div>
<div class="dash"></div>
<div class="c" style="left:26px;top:0;line-height:24px;color:#333">Габровская Светлана Марковна</div>
<div class="c" style="left:301px;top:0;line-height:24px;color:#333">0000-00009</div>
<div class="c" style="left:406px;top:0;line-height:24px;color:#333">Крон-Ц</div>
<div class="c" style="left:519px;top:0;line-height:24px;color:#333">Сектор развит...</div>
<div class="c" style="left:632px;top:0;line-height:24px;color:#333">Основное мест...</div>
<div class="c" style="left:745px;top:0;line-height:24px;color:#333">25.01.2010</div>
</div>
<div class="a" style="left:0;top:362px;width:900px;height:24px">
<div class="a" style="left:0;top:23px;width:900px;height:1px;background:#e3e3e3"></div>
<div class="dash"></div>
<div class="c" style="left:26px;top:0;line-height:24px;color:#333">Гольд Лев Самуилович</div>
<div class="c" style="left:301px;top:0;line-height:24px;color:#333">0000-00027</div>
<div class="c" style="left:406px;top:0;line-height:24px;color:#333">Крон-Ц</div>
<div class="c" style="left:519px;top:0;line-height:24px;color:#333">Руководство</div>
<div class="c" style="left:632px;top:0;line-height:24px;color:#333">Основное мест...</div>
<div class="c" style="left:745px;top:0;line-height:24px;color:#333">11.01.2010</div>
<div class="c" style="left:840px;top:0;line-height:24px;color:#333">29</div>
</div>
<div class="a" style="left:0;top:386px;width:900px;height:24px">
<div class="a" style="left:0;top:23px;width:900px;height:1px;background:#e3e3e3"></div>
<div class="dash"></div>
<div class="c" style="left:26px;top:0;line-height:24px;color:#333">Гордина Елена Владимировна</div>
<div class="c" style="left:301px;top:0;line-height:24px;color:#333">0000-00033</div>
<div class="c" style="left:406px;top:0;line-height:24px;color:#333">Крон-Ц</div>
<div class="c" style="left:519px;top:0;line-height:24px;color:#333">Отдел по работ...</div>
<div class="c" style="left:632px;top:0;line-height:24px;color:#333">Основное мест...</div>
<div class="c" style="left:745px;top:0;line-height:24px;color:#333">08.06.2016</div>
</div>
<div class="a" style="left:0;top:410px;width:900px;height:24px">
<div class="a" style="left:0;top:23px;width:900px;height:1px;background:#e3e3e3"></div>
<div class="dash"></div>
<div class="c" style="left:26px;top:0;line-height:24px;color:#333">Громова Надежда Петровна</div>
<div class="c" style="left:301px;top:0;line-height:24px;color:#333">0000-00008</div>
<div class="c" style="left:406px;top:0;line-height:24px;color:#333">Крон-Ц</div>
<div class="c" style="left:519px;top:0;line-height:24px;color:#333">Отдел по работ...</div>
<div class="c" style="left:632px;top:0;line-height:24px;color:#333">Основное мест...</div>
<div class="c" style="left:745px;top:0;line-height:24px;color:#333">25.01.2010</div>
</div>
<div class="a" style="left:0;top:434px;width:900px;height:24px">
<div class="a" style="left:0;top:23px;width:900px;height:1px;background:#e3e3e3"></div>
<div class="dash"></div>
<div class="c" style="left:26px;top:0;line-height:24px;color:#333">Захаркин Савелий Петрович</div>
<div class="c" style="left:301px;top:0;line-height:24px;color:#333">0000-00022</div>
<div class="c" style="left:406px;top:0;line-height:24px;color:#333">Крон-Ц</div>
<div class="c" style="left:519px;top:0;line-height:24px;color:#333">Сектор дежурн...</div>
<div class="c" style="left:632px;top:0;line-height:24px;color:#333">Основное мест...</div>
<div class="c" style="left:745px;top:0;line-height:24px;color:#333">25.01.2010</div>
</div>
<div class="a" style="left:0;top:458px;width:900px;height:24px">
<div class="a" style="left:0;top:23px;width:900px;height:1px;background:#e3e3e3"></div>
<div class="dash"></div>
<div class="c" style="left:26px;top:0;line-height:24px;color:#333">Козьмин Глеб Матвеевич</div>
<div class="c" style="left:301px;top:0;line-height:24px;color:#333">0000-00021</div>
<div class="c" style="left:406px;top:0;line-height:24px;color:#333">Крон-Ц</div>
<div class="c" style="left:519px;top:0;line-height:24px;color:#333">Управление об...</div>
<div class="c" style="left:632px;top:0;line-height:24px;color:#333">Основное мест...</div>
<div class="c" style="left:745px;top:0;line-height:24px;color:#333">25.01.2010</div>
</div>
<div class="a" style="left:0;top:482px;width:900px;height:24px">
<div class="a" style="left:0;top:23px;width:900px;height:1px;background:#e3e3e3"></div>
<div class="dash"></div>
<div class="c" style="left:26px;top:0;line-height:24px;color:#333">Коломенская ДАРЬЯ</div>
<div class="c" style="left:301px;top:0;line-height:24px;color:#333">0000-00038</div>
<div class="c" style="left:406px;top:0;line-height:24px;color:#333">Крон-Ц</div>
<div class="c" style="left:519px;top:0;line-height:24px;color:#333">Сметно-штатн...</div>
<div class="c" style="left:632px;top:0;line-height:24px;color:#333">Основное мест...</div>
<div class="c" style="left:745px;top:0;line-height:24px;color:#333">01.05.2025</div>
</div>
<div class="a" style="left:0;top:506px;width:900px;height:24px">
<div class="a" style="left:0;top:23px;width:900px;height:1px;background:#e3e3e3"></div>
<div class="dash"></div>
<div class="c" style="left:26px;top:0;line-height:24px;color:#333">Коломенская Марья Олеговна</div>
<div class="c" style="left:301px;top:0;line-height:24px;color:#333">0000-00037</div>
<div class="c" style="left:406px;top:0;line-height:24px;color:#333">Крон-Ц</div>
<div class="c" style="left:519px;top:0;line-height:24px;color:#333">Сметно-штатн...</div>
<div class="c" style="left:632px;top:0;line-height:24px;color:#333">Основное мест...</div>
<div class="c" style="left:745px;top:0;line-height:24px;color:#333">01.05.2025</div>
</div>
<div class="a" style="left:0;top:530px;width:900px;height:24px">
<div class="a" style="left:0;top:23px;width:900px;height:1px;background:#e3e3e3"></div>
<div class="dash"></div>
<div class="c" style="left:26px;top:0;line-height:24px;color:#333">Коломенская Марья Олеговна МЕНЕДЖЕР</div>
<div class="c" style="left:301px;top:0;line-height:24px;color:#333">0000-00037</div>
<div class="c" style="left:406px;top:0;line-height:24px;color:#333">Крон-Ц</div>
<div class="c" style="left:745px;top:0;line-height:24px;color:#333">09.09.2025</div>
<div class="c" style="left:840px;top:0;line-height:24px;color:#333">09</div>
</div>
<div class="a" style="left:0;top:546px;width:900px;height:22px;background:#fff"></div>
<svg class="a" style="left:0;top:546px" width="856" height="22"><path d="M9 10 L14 6.5 L14 13.5 Z" fill="#c8c8c8"/><rect x="23.5" y="6" width="692" height="8" rx="4" fill="#dcdcdc"/><rect x="23.5" y="6" width="624" height="8" rx="4" fill="#9c9c9c"/><path d="M726 6.5 L731 10 L726 13.5 Z" fill="#555"/></svg>
<div class="a" style="left:759px;top:547px;width:96px;height:20px;border:1px solid #c4c4c4;border-right:none;border-bottom:none;background:#fff"></div>
<div class="a" style="left:783px;top:547px;width:1px;height:20px;background:#c4c4c4"></div>
<div class="a" style="left:807px;top:547px;width:1px;height:20px;background:#c4c4c4"></div>
<div class="a" style="left:831px;top:547px;width:1px;height:20px;background:#c4c4c4"></div>
<svg class="a" style="left:759px;top:547px" width="96" height="20"><path d="M7 6 H17" stroke="#b0b0b0" stroke-width="1.6"/><path d="M12 7.5 L17 12.5 H7 Z" fill="#b0b0b0"/><path d="M36 7.5 L41 12.5 H31 Z" fill="#b0b0b0"/><path d="M55 8 H65 L60 13 Z" fill="#333"/><path d="M79 7 H89 L84 12 Z" fill="#333"/><path d="M79 14 H89" stroke="#333" stroke-width="1.6"/></svg>
</div>
<div class="a" style="left:869px;top:318px;width:1px;height:622px;background:repeating-linear-gradient(#d2d2d2 0 4px,transparent 4px 6px)"></div>
<div class="a" style="left:874px;top:344px;width:834px;height:595px;border:1px solid #bdbdbd;background:#fff"></div>
<div class="a" style="left:978px;top:318px;width:106px;height:26px;border:1px solid #bdbdbd;border-bottom:none;border-radius:3px 3px 0 0;background:#ebebeb"><div class="tx" style="left:10px;top:5px;color:#333">Движения карт</div></div>
<div class="a" style="left:1083px;top:318px;width:242px;height:26px;border:1px solid #bdbdbd;border-bottom:none;border-radius:3px 3px 0 0;background:#ebebeb"><div class="tx" style="left:10px;top:5px;color:#333">История предоставления прав доступа</div></div>
<div class="a" style="left:874px;top:318px;width:105px;height:27px;border:1px solid #bdbdbd;border-bottom:none;border-radius:3px 3px 0 0;background:#fff"><div class="tx" style="left:10px;top:5px;color:#333">События СКУД</div></div>
<div class="inp" style="left:1354px;top:352px;width:234px;height:23px"><div class="tx" style="left:1px;top:4px;color:#b8b8b8">Поиск (Ctrl+F)</div><div class="a" style="left:213px;top:0;width:1px;height:21px;background:#c8c8c8"></div><svg class="a" style="left:218px;top:7px" width="9" height="9"><path d="M1.8 1.8 L7.2 7.2 M7.2 1.8 L1.8 7.2" stroke="#888" stroke-width="1.5"/></svg></div>
<div class="btn" style="left:1596px;top:352px;width:39px;height:22px"><svg class="a" style="left:6px;top:4px" width="14" height="14"><circle cx="5.5" cy="5.3" r="3.9" fill="none" stroke="#2f6fb3" stroke-width="1.6"/><path d="M8.3 8.2 L11.6 11.6" stroke="#2f6fb3" stroke-width="2.2" stroke-linecap="round"/></svg><div class="a" style="left:24px;top:9px;width:0;height:0;border-left:3.5px solid transparent;border-right:3.5px solid transparent;border-top:3.5px solid #555"></div></div>
<div class="btn" style="left:1643px;top:352px;width:55px;height:22px"><div class="tx" style="left:12px;top:4px">Еще</div><div class="a" style="left:40px;top:10px;width:0;height:0;border-left:3.5px solid transparent;border-right:3.5px solid transparent;border-top:3.5px solid #555"></div></div>
<div class="grid" style="left:884px;top:383px;width:814px;height:526px">
<div class="hdr" style="left:0;top:1px;width:900px;height:24px"></div>
<div class="a" style="left:0;top:25px;width:900px;height:1px;background:#cdcdcd"></div>
<div class="c" style="left:6px;top:0px;line-height:24px;color:#4d4d4d">Время события</div>
<div class="a" style="left:122px;top:1px;width:1px;height:24px;background:#cfcfcf"></div>
<div class="a" style="left:123px;top:1px;width:1px;height:24px;background:#fff"></div>
<div class="c" style="left:129px;top:0px;line-height:24px;color:#4d4d4d">Событие</div>
<div class="a" style="left:191px;top:1px;width:1px;height:24px;background:#cfcfcf"></div>
<div class="a" style="left:192px;top:1px;width:1px;height:24px;background:#fff"></div>
<div class="c" style="left:198px;top:0px;line-height:24px;color:#4d4d4d">Территория</div>
<div class="a" style="left:406px;top:1px;width:1px;height:24px;background:#cfcfcf"></div>
<div class="a" style="left:407px;top:1px;width:1px;height:24px;background:#fff"></div>
<div class="c" style="left:413px;top:0px;line-height:24px;color:#4d4d4d">Карта доступа</div>
<div class="a" style="left:570px;top:1px;width:1px;height:24px;background:#cfcfcf"></div>
<div class="a" style="left:571px;top:1px;width:1px;height:24px;background:#fff"></div>
<div class="c" style="left:577px;top:0px;line-height:24px;color:#4d4d4d">Система контроля доступа</div>
<svg class="a" style="left:103px;top:6px" width="10" height="12"><path d="M5 3 V11" stroke="#444" stroke-width="1"/><path d="M2.7 4.5 L5 1.2 L7.3 4.5 Z" fill="#444"/></svg>
<div class="a" style="left:0;top:26px;width:900px;height:24px">
<div class="a" style="left:0px;top:1px;width:122px;height:21px;background:#fde291"></div>
<div class="a" style="left:123px;top:1px;width:68px;height:21px;background:#fdf2c6"></div>
<div class="a" style="left:192px;top:1px;width:214px;height:21px;background:#fdf2c6"></div>
<div class="a" style="left:407px;top:1px;width:163px;height:21px;background:#fdf2c6"></div>
<div class="a" style="left:571px;top:1px;width:240px;height:21px;background:#fdf2c6"></div>
<div class="a" style="left:0;top:23px;width:900px;height:1px;background:#e3e3e3"></div>
<div class="c" style="left:6px;top:0;line-height:24px;color:#333">29.07.2025 19:55...</div>
<div class="c" style="left:129px;top:0;line-height:24px;color:#333">Выход</div>
<div class="c" style="left:198px;top:0;line-height:24px;color:#333">Внешняя территория</div>
<div class="c" style="left:413px;top:0;line-height:24px;color:#333">1</div>
<div class="c" style="left:577px;top:0;line-height:24px;color:#333">GATE</div>
</div>
<div class="a" style="left:0;top:50px;width:900px;height:24px">
<div class="a" style="left:0;top:23px;width:900px;height:1px;background:#e3e3e3"></div>
<div class="c" style="left:6px;top:0;line-height:24px;color:#333">29.07.2025 13:12...</div>
<div class="c" style="left:129px;top:0;line-height:24px;color:#333">Вход</div>
<div class="c" style="left:198px;top:0;line-height:24px;color:#333">Внутренняя территория</div>
<div class="c" style="left:413px;top:0;line-height:24px;color:#333">1</div>
<div class="c" style="left:577px;top:0;line-height:24px;color:#333">GATE</div>
</div>
<div class="a" style="left:0;top:74px;width:900px;height:24px">
<div class="a" style="left:0;top:23px;width:900px;height:1px;background:#e3e3e3"></div>
<div class="c" style="left:6px;top:0;line-height:24px;color:#333">29.07.2025 11:52:...</div>
<div class="c" style="left:129px;top:0;line-height:24px;color:#333">Выход</div>
<div class="c" style="left:198px;top:0;line-height:24px;color:#333">Внешняя территория</div>
<div class="c" style="left:413px;top:0;line-height:24px;color:#333">1</div>
<div class="c" style="left:577px;top:0;line-height:24px;color:#333">GATE</div>
</div>
<div class="a" style="left:0;top:98px;width:900px;height:24px">
<div class="a" style="left:0;top:23px;width:900px;height:1px;background:#e3e3e3"></div>
<div class="c" style="left:6px;top:0;line-height:24px;color:#333">29.07.2025 7:57:40</div>
<div class="c" style="left:129px;top:0;line-height:24px;color:#333">Вход</div>
<div class="c" style="left:198px;top:0;line-height:24px;color:#333">Внутренняя территория</div>
<div class="c" style="left:413px;top:0;line-height:24px;color:#333">1</div>
<div class="c" style="left:577px;top:0;line-height:24px;color:#333">GATE</div>
</div>
<div class="a" style="left:0;top:122px;width:900px;height:24px">
<div class="a" style="left:0;top:23px;width:900px;height:1px;background:#e3e3e3"></div>
<div class="c" style="left:6px;top:0;line-height:24px;color:#333">28.07.2025 19:55...</div>
<div class="c" style="left:129px;top:0;line-height:24px;color:#333">Выход</div>
<div class="c" style="left:198px;top:0;line-height:24px;color:#333">Внешняя территория</div>
<div class="c" style="left:413px;top:0;line-height:24px;color:#333">1</div>
<div class="c" style="left:577px;top:0;line-height:24px;color:#333">GATE</div>
</div>
<div class="a" style="left:0;top:146px;width:900px;height:24px">
<div class="a" style="left:0;top:23px;width:900px;height:1px;background:#e3e3e3"></div>
<div class="c" style="left:6px;top:0;line-height:24px;color:#333">28.07.2025 13:05...</div>
<div class="c" style="left:129px;top:0;line-height:24px;color:#333">Вход</div>
<div class="c" style="left:198px;top:0;line-height:24px;color:#333">Внутренняя территория</div>
<div class="c" style="left:413px;top:0;line-height:24px;color:#333">1</div>
<div class="c" style="left:577px;top:0;line-height:24px;color:#333">GATE</div>
</div>
<div class="a" style="left:0;top:170px;width:900px;height:24px">
<div class="a" style="left:0;top:23px;width:900px;height:1px;background:#e3e3e3"></div>
<div class="c" style="left:6px;top:0;line-height:24px;color:#333">28.07.2025 11:47:...</div>
<div class="c" style="left:129px;top:0;line-height:24px;color:#333">Выход</div>
<div class="c" style="left:198px;top:0;line-height:24px;color:#333">Внешняя территория</div>
<div class="c" style="left:413px;top:0;line-height:24px;color:#333">1</div>
<div class="c" style="left:577px;top:0;line-height:24px;color:#333">GATE</div>
</div>
<div class="a" style="left:0;top:194px;width:900px;height:24px">
<div class="a" style="left:0;top:23px;width:900px;height:1px;background:#e3e3e3"></div>
<div class="c" style="left:6px;top:0;line-height:24px;color:#333">28.07.2025 8:13:30</div>
<div class="c" style="left:129px;top:0;line-height:24px;color:#333">Вход</div>
<div class="c" style="left:198px;top:0;line-height:24px;color:#333">Внутренняя территория</div>
<div class="c" style="left:413px;top:0;line-height:24px;color:#333">1</div>
<div class="c" style="left:577px;top:0;line-height:24px;color:#333">GATE</div>
</div>
<div class="a" style="left:0;top:218px;width:900px;height:24px">
<div class="a" style="left:0;top:23px;width:900px;height:1px;background:#e3e3e3"></div>
<div class="c" style="left:6px;top:0;line-height:24px;color:#333">26.07.2025 8:02:37</div>
<div class="c" style="left:129px;top:0;line-height:24px;color:#333">Выход</div>
<div class="c" style="left:198px;top:0;line-height:24px;color:#333">Внешняя территория</div>
<div class="c" style="left:413px;top:0;line-height:24px;color:#333">1</div>
<div class="c" style="left:577px;top:0;line-height:24px;color:#333">GATE</div>
</div>
<div class="a" style="left:0;top:242px;width:900px;height:24px">
<div class="a" style="left:0;top:23px;width:900px;height:1px;background:#e3e3e3"></div>
<div class="c" style="left:6px;top:0;line-height:24px;color:#333">26.07.2025 5:55:23</div>
<div class="c" style="left:129px;top:0;line-height:24px;color:#333">Вход</div>
<div class="c" style="left:198px;top:0;line-height:24px;color:#333">Внутренняя территория</div>
<div class="c" style="left:413px;top:0;line-height:24px;color:#333">1</div>
<div class="c" style="left:577px;top:0;line-height:24px;color:#333">GATE</div>
</div>
<div class="a" style="left:0;top:266px;width:900px;height:24px">
<div class="a" style="left:0;top:23px;width:900px;height:1px;background:#e3e3e3"></div>
<div class="c" style="left:6px;top:0;line-height:24px;color:#333">26.07.2025 5:45:49</div>
<div class="c" style="left:129px;top:0;line-height:24px;color:#333">Выход</div>
<div class="c" style="left:198px;top:0;line-height:24px;color:#333">Внешняя территория</div>
<div class="c" style="left:413px;top:0;line-height:24px;color:#333">1</div>
<div class="c" style="left:577px;top:0;line-height:24px;color:#333">GATE</div>
</div>
<div class="a" style="left:0;top:290px;width:900px;height:24px">
<div class="a" style="left:0;top:23px;width:900px;height:1px;background:#e3e3e3"></div>
<div class="c" style="left:6px;top:0;line-height:24px;color:#333">26.07.2025 1:45:31</div>
<div class="c" style="left:129px;top:0;line-height:24px;color:#333">Вход</div>
<div class="c" style="left:198px;top:0;line-height:24px;color:#333">Внутренняя территория</div>
<div class="c" style="left:413px;top:0;line-height:24px;color:#333">1</div>
<div class="c" style="left:577px;top:0;line-height:24px;color:#333">GATE</div>
</div>
<div class="a" style="left:0;top:314px;width:900px;height:24px">
<div class="a" style="left:0;top:23px;width:900px;height:1px;background:#e3e3e3"></div>
<div class="c" style="left:6px;top:0;line-height:24px;color:#333">26.07.2025 1:06:09</div>
<div class="c" style="left:129px;top:0;line-height:24px;color:#333">Выход</div>
<div class="c" style="left:198px;top:0;line-height:24px;color:#333">Внешняя территория</div>
<div class="c" style="left:413px;top:0;line-height:24px;color:#333">1</div>
<div class="c" style="left:577px;top:0;line-height:24px;color:#333">GATE</div>
</div>
<div class="a" style="left:0;top:338px;width:900px;height:24px">
<div class="a" style="left:0;top:23px;width:900px;height:1px;background:#e3e3e3"></div>
<div class="c" style="left:6px;top:0;line-height:24px;color:#333">25.07.2025 21:54...</div>
<div class="c" style="left:129px;top:0;line-height:24px;color:#333">Вход</div>
<div class="c" style="left:198px;top:0;line-height:24px;color:#333">Внутренняя территория</div>
<div class="c" style="left:413px;top:0;line-height:24px;color:#333">1</div>
<div class="c" style="left:577px;top:0;line-height:24px;color:#333">GATE</div>
</div>
<div class="a" style="left:0;top:362px;width:900px;height:24px">
<div class="a" style="left:0;top:23px;width:900px;height:1px;background:#e3e3e3"></div>
<div class="c" style="left:6px;top:0;line-height:24px;color:#333">25.07.2025 21:53...</div>
<div class="c" style="left:129px;top:0;line-height:24px;color:#333">Выход</div>
<div class="c" style="left:198px;top:0;line-height:24px;color:#333">Внешняя территория</div>
<div class="c" style="left:413px;top:0;line-height:24px;color:#333">1</div>
<div class="c" style="left:577px;top:0;line-height:24px;color:#333">GATE</div>
</div>
<div class="a" style="left:0;top:386px;width:900px;height:24px">
<div class="a" style="left:0;top:23px;width:900px;height:1px;background:#e3e3e3"></div>
<div class="c" style="left:6px;top:0;line-height:24px;color:#333">25.07.2025 20:10...</div>
<div class="c" style="left:129px;top:0;line-height:24px;color:#333">Вход</div>
<div class="c" style="left:198px;top:0;line-height:24px;color:#333">Внутренняя территория</div>
<div class="c" style="left:413px;top:0;line-height:24px;color:#333">1</div>
<div class="c" style="left:577px;top:0;line-height:24px;color:#333">GATE</div>
</div>
<div class="a" style="left:0;top:410px;width:900px;height:24px">
<div class="a" style="left:0;top:23px;width:900px;height:1px;background:#e3e3e3"></div>
<div class="c" style="left:6px;top:0;line-height:24px;color:#333">25.07.2025 8:04:16</div>
<div class="c" style="left:129px;top:0;line-height:24px;color:#333">Выход</div>
<div class="c" style="left:198px;top:0;line-height:24px;color:#333">Внешняя территория</div>
<div class="c" style="left:413px;top:0;line-height:24px;color:#333">1</div>
<div class="c" style="left:577px;top:0;line-height:24px;color:#333">GATE</div>
</div>
<div class="a" style="left:0;top:434px;width:900px;height:24px">
<div class="a" style="left:0;top:23px;width:900px;height:1px;background:#e3e3e3"></div>
<div class="c" style="left:6px;top:0;line-height:24px;color:#333">25.07.2025 6:03:51</div>
<div class="c" style="left:129px;top:0;line-height:24px;color:#333">Вход</div>
<div class="c" style="left:198px;top:0;line-height:24px;color:#333">Внутренняя территория</div>
<div class="c" style="left:413px;top:0;line-height:24px;color:#333">1</div>
<div class="c" style="left:577px;top:0;line-height:24px;color:#333">GATE</div>
</div>
<div class="a" style="left:0;top:458px;width:900px;height:24px">
<div class="a" style="left:0;top:23px;width:900px;height:1px;background:#e3e3e3"></div>
<div class="c" style="left:6px;top:0;line-height:24px;color:#333">25.07.2025 6:03:50</div>
<div class="c" style="left:129px;top:0;line-height:24px;color:#333">Выход</div>
<div class="c" style="left:198px;top:0;line-height:24px;color:#333">Внешняя территория</div>
<div class="c" style="left:413px;top:0;line-height:24px;color:#333">1</div>
<div class="c" style="left:577px;top:0;line-height:24px;color:#333">GATE</div>
</div>
<div class="a" style="left:0;top:482px;width:900px;height:24px">
<div class="a" style="left:0;top:23px;width:900px;height:1px;background:#e3e3e3"></div>
<div class="c" style="left:6px;top:0;line-height:24px;color:#333">25.07.2025 1:56:23</div>
<div class="c" style="left:129px;top:0;line-height:24px;color:#333">Вход</div>
<div class="c" style="left:198px;top:0;line-height:24px;color:#333">Внутренняя территория</div>
<div class="c" style="left:413px;top:0;line-height:24px;color:#333">1</div>
<div class="c" style="left:577px;top:0;line-height:24px;color:#333">GATE</div>
</div>
<div class="a" style="left:0;top:506px;width:900px;height:24px">
<div class="a" style="left:0;top:23px;width:900px;height:1px;background:#e3e3e3"></div>
<div class="c" style="left:6px;top:0;line-height:24px;color:#333">25.07.2025 1:14:46</div>
<div class="c" style="left:129px;top:0;line-height:24px;color:#333">Выход</div>
<div class="c" style="left:198px;top:0;line-height:24px;color:#333">Внешняя территория</div>
<div class="c" style="left:413px;top:0;line-height:24px;color:#333">1</div>
<div class="c" style="left:577px;top:0;line-height:24px;color:#333">GATE</div>
</div>
</div>
<div class="a" style="left:1601px;top:908px;width:97px;height:22px;border:1px solid #c4c4c4;border-top:none;background:#fff"></div>
<div class="a" style="left:1625px;top:908px;width:1px;height:21px;background:#c4c4c4"></div>
<div class="a" style="left:1649px;top:908px;width:1px;height:21px;background:#c4c4c4"></div>
<div class="a" style="left:1673px;top:908px;width:1px;height:21px;background:#c4c4c4"></div>
<svg class="a" style="left:1601px;top:908px" width="96" height="22"><path d="M7 7 H17" stroke="#b0b0b0" stroke-width="1.6"/><path d="M12 8.5 L17 13.5 H7 Z" fill="#b0b0b0"/><path d="M36 8.5 L41 13.5 H31 Z" fill="#b0b0b0"/><path d="M55 9 H65 L60 14 Z" fill="#333"/><path d="M79 8 H89 L84 13 Z" fill="#333"/><path d="M79 15 H89" stroke="#333" stroke-width="1.6"/></svg>
</body></html>
